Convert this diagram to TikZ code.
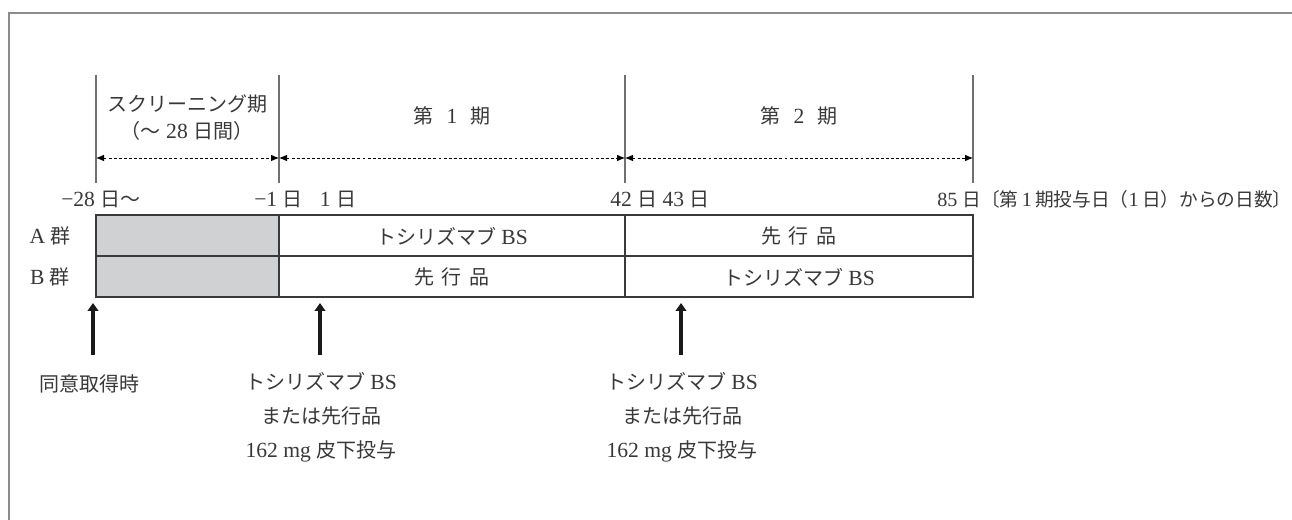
\documentclass[tikz,border=0pt]{standalone}
\usepackage{fontspec}
\setmainfont{Liberation Serif}[Scale=1.08]
\newfontfamily\jpf{Noto Sans CJK JP}
\newcommand\J[1]{{\jpf #1}}
\usetikzlibrary{arrows.meta}
\definecolor{txt}{HTML}{383838}
\definecolor{framec}{HTML}{8C8C8C}
\definecolor{tickc}{HTML}{707070}
\definecolor{boxc}{HTML}{3A3A3A}
\definecolor{cellgray}{HTML}{D0D1D3}
\tikzset{
  lbl/.style={text=txt, font=\fontsize{15}{18}\selectfont, inner sep=0pt},
  multi/.style={text=txt, font=\fontsize{15}{25.5}\selectfont, inner sep=0pt, align=center},
  frameline/.style={draw=framec, line width=1.5pt},
  tickline/.style={draw=tickc, line width=1.1pt},
  boxline/.style={draw=boxc, line width=0.9pt},
  dimarrow/.style={draw=black, line width=0.7pt, dash pattern=on 2.2pt off 1.6pt,
    {Latex[length=6pt,width=5pt]}-{Latex[length=6pt,width=5pt]}},
  bigarrow/.style={draw=black!90, line width=3pt, -{Triangle[length=6pt,width=8pt]}}
}
\begin{document}
\begin{tikzpicture}[x=0.75pt,y=-0.75pt]
\useasboundingbox (0,0) rectangle (1292,520);
% frame
\draw[frameline] (9,520) -- (9,13) -- (1292,13);
% tick lines
\foreach \i/\x in {0/96,1/279,2/625,3/973}{
  \coordinate (t\i) at (\x,75);
  \coordinate (b\i) at (\x,183);
  \coordinate (d\i) at (\x,158);
  \draw[tickline] (t\i) -- (b\i);
}
% dimension arrows
\draw[dimarrow] (d0) -- (d1);
\draw[dimarrow] (d1) -- (d2);
\draw[dimarrow] (d2) -- (d3);
% period labels
\node[lbl] (scr) at (187,104) {\J{スクリーニング期}};
\node[lbl] (scr2) at (187,131) {\J{（〜} 28 \J{日間）}};
\node[lbl] (per1) at (452,116) {\J{第}\hspace{0.6em}1\hspace{0.6em}\J{期}};
\node[lbl] (per2) at (799,116) {\J{第}\hspace{0.6em}2\hspace{0.6em}\J{期}};
% day labels
\node[lbl,anchor=west] (day0) at (61,199) {−28 \J{日〜}};
\node[lbl,anchor=west] (day1) at (254,199) {−1 \J{日}\hspace{0.8em}1 \J{日}};
\node[lbl,anchor=west] (day2) at (610,199) {42 \J{日} 43 \J{日}};
\node[lbl,anchor=west,font=\fontsize{14}{17}\selectfont] (day3) at (937,199) {85 \J{日〔第}\,1\,\J{期投与日（}1\,\J{日）からの日数〕}};
% table
\fill[cellgray] (96,215) rectangle (279,297);
\draw[boxline] (96,215) rectangle (973,297);
\draw[boxline] (96,256) -- (973,256);
\draw[boxline] (279,215) -- (279,297);
\draw[boxline] (625,215) -- (625,297);
\node[lbl] (ga) at (50,236) {A \J{群}};
\node[lbl] (gb) at (50,277) {B \J{群}};
\node[lbl] (a1) at (452,236) {\J{トシリズマブ} BS};
\node[lbl] (a2) at (799,236) {\J{先\hspace{0.4em}行\hspace{0.4em}品}};
\node[lbl] (b1) at (452,277) {\J{先\hspace{0.4em}行\hspace{0.4em}品}};
\node[lbl] (b2) at (799,277) {\J{トシリズマブ} BS};
% event arrows
\coordinate (e0s) at (93,355);  \coordinate (e0e) at (93,303);
\coordinate (e1s) at (320,355); \coordinate (e1e) at (320,303);
\coordinate (e2s) at (681,355); \coordinate (e2e) at (681,303);
\draw[bigarrow] (e0s) -- (e0e);
\draw[bigarrow] (e1s) -- (e1e);
\draw[bigarrow] (e2s) -- (e2e);
% event labels
\node[lbl] (consent) at (89,384) {\J{同意取得時}};
\node[multi] (dose1) at (321,417) {\J{トシリズマブ} BS\\\J{または先行品}\\162 mg \J{皮下投与}};
\node[multi] (dose2) at (682,417) {\J{トシリズマブ} BS\\\J{または先行品}\\162 mg \J{皮下投与}};
\end{tikzpicture}
\end{document}
